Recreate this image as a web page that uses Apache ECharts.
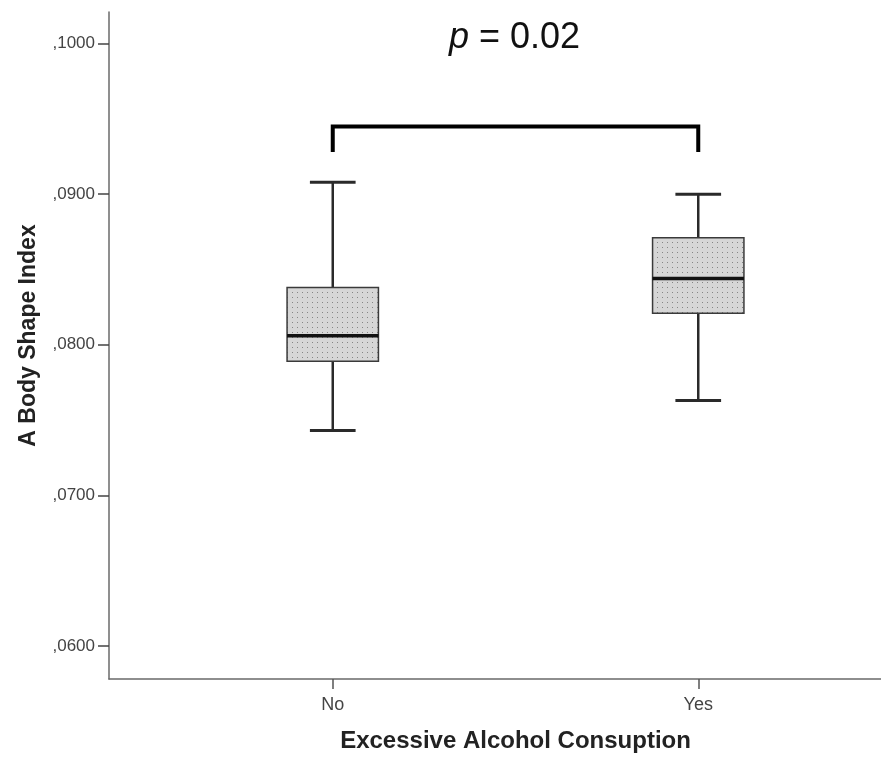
<!DOCTYPE html>
<html>
<head>
<meta charset="utf-8">
<script src="https://cdn.jsdelivr.net/npm/echarts@6/dist/echarts.min.js"></script>
<style>
  html, body { margin: 0; padding: 0; background: #fff; }
  #chart { width: 881px; height: 758px; }
</style>
</head>
<body>
<div id="chart"></div>
<script>
// data
const categories = ['No', 'Yes'];
const whiskerMin = [0.0743, 0.0763];
const quartile1 = [0.0789, 0.0821];
const medians = [0.0806, 0.0844];
const quartile3 = [0.0838, 0.0871];
const whiskerMax = [0.0908, 0.0900];
const yTickValues = [0.06, 0.07, 0.08, 0.09, 0.10];
const yTickLabels = [',0600', ',0700', ',0800', ',0900', ',1000'];
const bracketLow = 0.0928;
const bracketHigh = 0.0945;

const yMin = 0.0578;
const yMax = 0.1021;
const FONT = '"Liberation Sans", Arial, sans-serif';

// dotted grey fill like the SPSS box
const patternCanvas = document.createElement('canvas');
patternCanvas.width = 5;
patternCanvas.height = 5;
const pctx = patternCanvas.getContext('2d');
pctx.fillStyle = '#d6d6d6';
pctx.fillRect(0, 0, 5, 5);
pctx.fillStyle = '#858585';
pctx.fillRect(2, 2, 1, 1);

const boxData = categories.map((c, i) => [i, whiskerMin[i], quartile1[i], medians[i], quartile3[i], whiskerMax[i]]);

const renderBox = (params, api) => {
  const idx = api.value(0);
  const pMin = api.coord([idx, api.value(1)]);
  const pQ1 = api.coord([idx, api.value(2)]);
  const pMed = api.coord([idx, api.value(3)]);
  const pQ3 = api.coord([idx, api.value(4)]);
  const pMax = api.coord([idx, api.value(5)]);
  const band = api.size([1, 0])[0];
  const bw = band * 0.25;
  const cw = bw / 2;
  const x = pMed[0];
  const line = (x1, y1, x2, y2, w, c) => ({
    type: 'line',
    shape: { x1, y1, x2, y2 },
    style: { stroke: c, lineWidth: w }
  });
  return {
    type: 'group',
    children: [
      line(x, pQ3[1], x, pMax[1], 2.5, '#2a2a2a'),
      line(x, pQ1[1], x, pMin[1], 2.5, '#2a2a2a'),
      line(x - cw / 2, pMax[1], x + cw / 2, pMax[1], 3, '#2a2a2a'),
      line(x - cw / 2, pMin[1], x + cw / 2, pMin[1], 3, '#2a2a2a'),
      {
        type: 'rect',
        shape: { x: x - bw / 2, y: pQ3[1], width: bw, height: pQ1[1] - pQ3[1] },
        style: { fill: { image: patternCanvas, repeat: 'repeat' }, stroke: '#3a3a3a', lineWidth: 1.5 }
      },
      line(x - bw / 2, pMed[1], x + bw / 2, pMed[1], 3.5, '#111')
    ]
  };
};

const chart = echarts.init(document.getElementById('chart'), null, { renderer: 'canvas' });

chart.setOption({
  backgroundColor: '#fff',
  animation: false,
  title: {
    text: '{i|p} = 0.02',
    left: 444,
    top: 15,
    textStyle: {
      fontFamily: FONT,
      fontSize: 36,
      fontWeight: 'normal',
      color: '#111',
      rich: {
        i: { fontFamily: FONT, fontSize: 36, fontStyle: 'italic', color: '#111' }
      }
    }
  },
  grid: [
    { left: 109, right: 0, top: 12, bottom: 79 },
    { left: 150, right: -1, top: 12, bottom: 79 }
  ],
  xAxis: [
    {
      gridIndex: 0,
      type: 'value',
      min: 0,
      max: 1,
      axisLine: { show: true, lineStyle: { color: '#6a6a6a', width: 1.5 } },
      axisTick: { show: false },
      axisLabel: { show: false },
      splitLine: { show: false }
    },
    {
      gridIndex: 1,
      type: 'category',
      data: categories,
      boundaryGap: true,
      name: 'Excessive Alcohol Consuption',
      nameLocation: 'middle',
      nameGap: 50,
      nameTextStyle: { fontFamily: FONT, fontSize: 24, fontWeight: 'bold', color: '#222' },
      axisLine: { show: false },
      axisTick: { show: true, alignWithLabel: true, length: 10, lineStyle: { color: '#555', width: 1.5 } },
      axisLabel: { fontFamily: FONT, fontSize: 18, color: '#444', margin: 17 },
      splitLine: { show: false }
    }
  ],
  yAxis: [
    {
      gridIndex: 0,
      type: 'value',
      min: yMin,
      max: yMax,
      name: 'A Body Shape Index',
      nameLocation: 'middle',
      nameGap: 69,
      nameTextStyle: { fontFamily: FONT, fontSize: 23, fontWeight: 'bold', color: '#222', padding: [0, 0, 0, 20] },
      axisLine: { show: true, lineStyle: { color: '#6a6a6a', width: 1.5 } },
      axisTick: { show: true, length: 11, customValues: yTickValues, lineStyle: { color: '#444', width: 1.5 } },
      axisLabel: {
        fontFamily: FONT,
        fontSize: 17,
        color: '#444',
        margin: 14,
        customValues: yTickValues,
        formatter: v => {
          const i = yTickValues.findIndex(t => Math.abs(t - v) < 1e-9);
          return i >= 0 ? yTickLabels[i] : '';
        }
      },
      splitLine: { show: false }
    },
    {
      gridIndex: 1,
      type: 'value',
      min: yMin,
      max: yMax,
      show: false,
      splitLine: { show: false }
    }
  ],
  series: [
    {
      type: 'custom',
      xAxisIndex: 1,
      yAxisIndex: 1,
      renderItem: renderBox,
      encode: { x: 0, y: [1, 2, 3, 4, 5] },
      data: boxData,
      z: 3
    },
    {
      type: 'line',
      xAxisIndex: 1,
      yAxisIndex: 1,
      symbol: 'none',
      lineStyle: { color: '#000', width: 4, join: 'miter', cap: 'butt' },
      data: [[0, bracketLow], [0, bracketHigh], [1, bracketHigh], [1, bracketLow]],
      z: 4
    }
  ]
});
</script>
</body>
</html>
